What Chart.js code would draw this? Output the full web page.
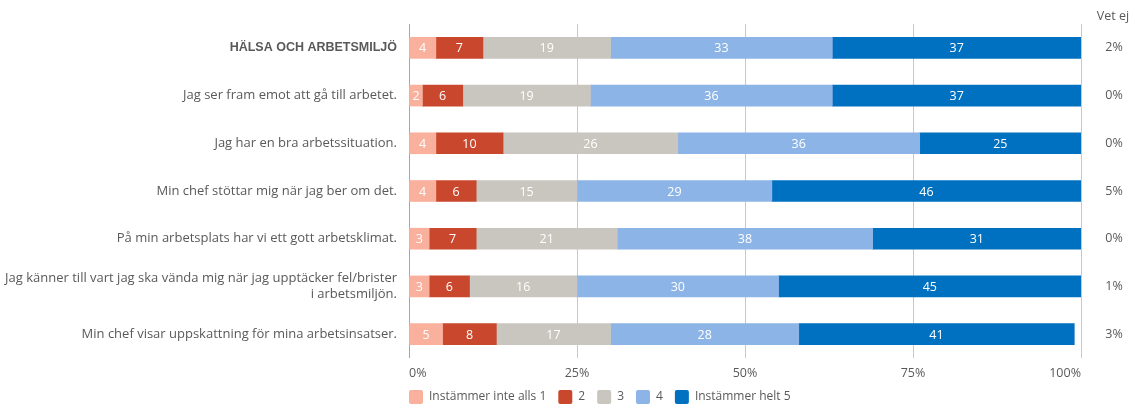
<!DOCTYPE html>
<html>
<head>
<meta charset="utf-8">
<script src="https://cdn.jsdelivr.net/npm/chart.js@4/dist/chart.umd.min.js"></script>
<style>
    html, body { margin: 0; padding: 0; background: #fff; }
    #wrap { width: 1137px; height: 405px; position: relative; }
</style>
</head>
<body>
<div id="wrap"><canvas id="surveyChart"></canvas></div>
<script>
const categories = [
    'HÄLSA OCH ARBETSMILJÖ',
    'Jag ser fram emot att gå till arbetet.',
    'Jag har en bra arbetssituation.',
    'Min chef stöttar mig när jag ber om det.',
    'På min arbetsplats har vi ett gott arbetsklimat.',
    ['Jag känner till vart jag ska vända mig när jag upptäcker fel/brister', 'i arbetsmiljön.'],
    'Min chef visar uppskattning för mina arbetsinsatser.'
];
const seriesNames = ['Instämmer inte alls 1', '2', '3', '4', 'Instämmer helt 5'];
const answers1 = [4, 2, 4, 4, 3, 3, 5];
const answers2 = [7, 6, 10, 6, 7, 6, 8];
const answers3 = [19, 19, 26, 15, 21, 16, 17];
const answers4 = [33, 36, 36, 29, 38, 30, 28];
const answers5 = [37, 37, 25, 46, 31, 45, 41];
const vetEj = [2, 0, 0, 5, 0, 1, 3];
const xTicks = [0, 25, 50, 75, 100];

const colors = ['#f9b09d', '#c9472c', '#c9c6bf', '#8db4e7', '#0070c0'];
const textColor = '#595959';
const baseFont = '"Open Sans", sans-serif';

// value labels inside the bar segments
const segmentLabels = {
    id: 'segmentLabels',
    afterDatasetsDraw(chart) {
        const ctx = chart.ctx;
        ctx.save();
        ctx.font = `12.5px ${baseFont}`;
        ctx.fillStyle = '#ffffff';
        ctx.textAlign = 'center';
        ctx.textBaseline = 'middle';
        chart.data.datasets.forEach((ds, i) => {
            chart.getDatasetMeta(i).data.forEach((bar, j) => {
                const left = Math.max(bar.base, chart.chartArea.left);
                const right = Math.min(bar.x, chart.chartArea.right);
                ctx.fillText(String(ds.data[j]), (left + right) / 2, bar.y + 1);
            });
        });
        ctx.restore();
    }
};

// "Vet ej" column on the right
const vetEjColumn = {
    id: 'vetEjColumn',
    afterDraw(chart) {
        const ctx = chart.ctx;
        const yScale = chart.scales.y;
        const x = chart.chartArea.right + 33;
        ctx.save();
        ctx.font = `12.5px ${baseFont}`;
        ctx.fillStyle = textColor;
        ctx.textAlign = 'center';
        ctx.textBaseline = 'middle';
        ctx.fillText('Vet ej', x - 1, 16);
        vetEj.forEach((v, i) => {
            ctx.fillText(`${v}%`, x, yScale.getPixelForValue(i));
        });
        ctx.restore();
    }
};

// legend starts at the left edge of the plot, just under the axis labels
const legendPlacement = {
    id: 'legendPlacement',
    afterLayout(chart) {
        const legend = chart.legend;
        const pad = legend.options.labels.padding;
        legend.left = chart.chartArea.left - pad;
        legend.top = 390 - pad;
    }
};

function buildDatasets() {
    const values = [answers1, answers2, answers3, answers4, answers5];
    return values.map((data, i) => ({
        label: seriesNames[i],
        data: data,
        backgroundColor: colors[i],
        borderWidth: 0,
        barThickness: 21
    }));
}

function initializeChart() {
    const ctx = document.getElementById('surveyChart').getContext('2d');
    new Chart(ctx, {
        type: 'bar',
        data: {
            labels: categories,
            datasets: buildDatasets()
        },
        options: {
            indexAxis: 'y',
            responsive: true,
            maintainAspectRatio: false,
            animation: false,
            layout: {
                padding: { top: 24, right: 56, left: 0, bottom: 0 }
            },
            plugins: {
                legend: {
                    position: 'bottom',
                    align: 'start',
                    maxHeight: 23,
                    labels: {
                        boxWidth: 14,
                        boxHeight: 14,
                        padding: 12,
                        useBorderRadius: true,
                        borderRadius: 2,
                        color: textColor,
                        font: { family: baseFont, size: 12 }
                    }
                },
                tooltip: { enabled: false }
            },
            scales: {
                x: {
                    stacked: true,
                    min: 0,
                    max: 100,
                    afterBuildTicks(scale) {
                        scale.ticks = xTicks.map(v => ({ value: v }));
                    },
                    afterFit(scale) {
                        scale.height = 24;
                    },
                    grid: {
                        drawTicks: false,
                        color: (c) => c.index === 0 ? '#a6a6a6' : '#c8c8c8'
                    },
                    border: { display: false },
                    ticks: {
                        align: 'inner',
                        padding: 8,
                        color: textColor,
                        font: { family: baseFont, size: 12.5 },
                        callback: (v) => `${v}%`
                    }
                },
                y: {
                    stacked: true,
                    afterFit(scale) {
                        scale.width = 409;
                    },
                    grid: { display: false, drawTicks: false },
                    border: { display: false },
                    ticks: {
                        padding: 12,
                        color: textColor,
                        font: (c) => c.index === 0
                            ? { family: '"Liberation Sans", Arial, sans-serif', size: 12.5, weight: 'bold', lineHeight: 1.25 }
                            : { family: baseFont, size: 13, lineHeight: 1.25 }
                    }
                }
            }
        },
        plugins: [segmentLabels, vetEjColumn, legendPlacement]
    });
}

document.addEventListener('DOMContentLoaded', initializeChart);
</script>
</body>
</html>
